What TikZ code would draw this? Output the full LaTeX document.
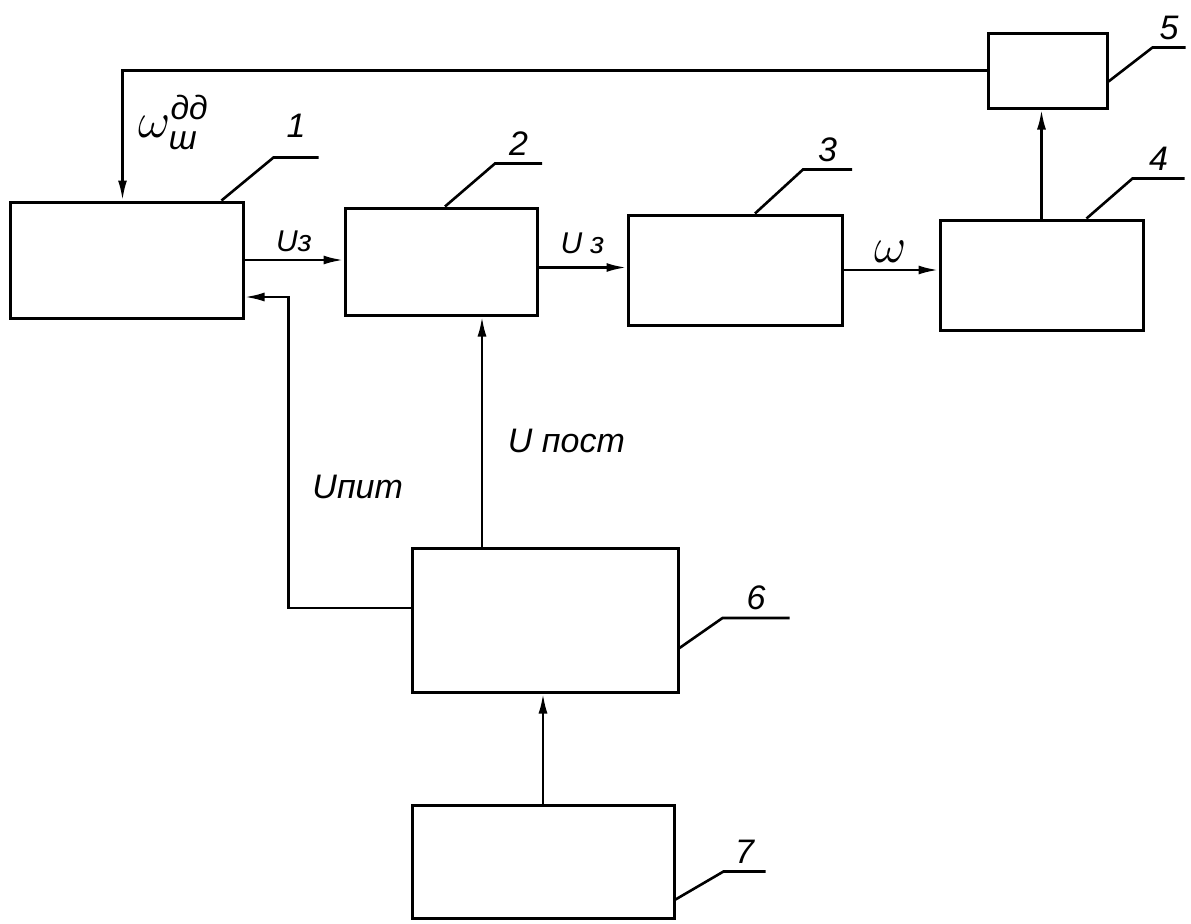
\documentclass[tikz,border=0pt]{standalone}
\usepackage{amsmath}
\usepackage{fontspec}
\setmainfont{Liberation Sans}
\usetikzlibrary{arrows.meta}

\begin{document}
\begin{tikzpicture}[
  x=0.5pt,y=-0.5pt,
  font=\fontsize{17}{20}\selectfont\itshape,
  box/.style={draw,line width=1.5pt,inner sep=0pt},
  arr/.style={-{Latex[length=10pt,width=4.5pt]},line width=1.3pt},
  lead/.style={line width=1.3pt},
  num/.style={midway,above},
  sig/.style={font=\fontsize{15}{18}\selectfont\itshape},
]
\useasboundingbox (0,0) rectangle (1191,923);
% blocks
\node[box,minimum width=116.5pt,minimum height=58pt] (b1) at (126.5,260) {};
\node[box,minimum width=96pt,minimum height=53.5pt] (b2) at (441,261.5) {};
\node[box,minimum width=107pt,minimum height=55pt] (b3) at (735,270) {};
\node[box,minimum width=101.5pt,minimum height=55pt] (b4) at (1041.5,275) {};
\node[box,minimum width=59.5pt,minimum height=37.5pt] (b5) at (1047.5,70.5) {};
\node[box,minimum width=133pt,minimum height=72pt] (b6) at (545,620) {};
\node[box,minimum width=131pt,minimum height=56.5pt] (b7) at (543,861.5) {};
% leaders with numbers
\draw[lead] (b1.north east) ++(-23,0) -- ++(52,-43) -- ++(45,0) node[num,yshift=6pt] {1};
\draw[lead] (b2.north) ++(4,0) -- ++(50,-43) -- ++(47,0) node[num] {2};
\draw[lead] (b3.north) ++(20,0) -- ++(48,-44) -- ++(49,0) node[num] {3};
\draw[lead] (b4.north) ++(45,0) -- ++(46,-40) -- ++(52,0) node[num] {4};
\draw[lead] (b5.east) ++(0,11) -- ++(44,-34) -- ++(33,0) node[num] {5};
\draw[lead] (b6.east) ++(0,28) -- ++(43,-30) -- ++(67,0) node[num] {6};
\draw[lead] (b7.south east) ++(0,-20) -- ++(48,-28) -- ++(42,0) node[num] {7};
% signals
\draw[arr] (b5.west) -| node[right,pos=0.7,xshift=4pt,font=\fontsize{24}{28}\selectfont\itshape]
  {$\omega^{\text{дд}}_{\text{ш}}$} ([xshift=-2pt]b1.north);
\draw[arr] (b1.east) -- node[above,sig] {Uз} (b1.east -| b2.west);
\draw[arr] ([yshift=-3pt]b2.east) -- node[above,sig,yshift=3pt] {U з} ([yshift=-3pt]b2.east -| b3.west);
\draw[arr] (b3.east) -- node[above,font=\fontsize{24}{28}\selectfont] {$\omega$} (b3.east -| b4.west);
\draw[arr] (b4.north) -- (b4.north |- b5.south);
\draw[arr] ([yshift=6pt]b6.west) -- ++(-122,0) |- node[right,pos=0.195,xshift=8pt] {Uпит} ([yshift=-18.5pt]b1.east);
\draw[arr] ([xshift=-31.5pt]b6.north) -- node[right,pos=0.46,xshift=9pt] {U пост} ([xshift=-31.5pt]b6.north |- b2.south);
\draw[arr] (b7.north) -- (b7.north |- b6.south);
\end{tikzpicture}
\end{document}
